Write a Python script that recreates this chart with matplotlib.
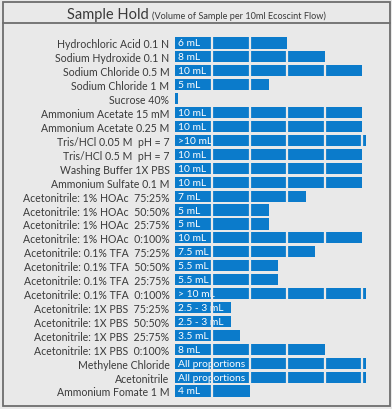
import matplotlib
matplotlib.use("Agg")
import matplotlib.pyplot as plt
from matplotlib.patches import Rectangle
from matplotlib.lines import Line2D

categories = [
    "Hydrochloric Acid 0.1 N", "Sodium Hydroxide 0.1 N", "Sodium Chloride 0.5 M",
    "Sodium Chloride 1 M", "Sucrose 40%", "Ammonium Acetate 15 mM",
    "Ammonium Acetate 0.25 M", "Tris/HCl 0.05 M  pH = 7", "Tris/HCl 0.5 M  pH = 7",
    "Washing Buffer 1X PBS", "Ammonium Sulfate 0.1 M",
    "Acetonitrile: 1% HOAc  75:25%", "Acetonitrile: 1% HOAc  50:50%",
    "Acetonitrile: 1% HOAc  25:75%", "Acetonitrile: 1% HOAc  0:100%",
    "Acetonitrile: 0.1% TFA  75:25%", "Acetonitrile: 0.1% TFA  50:50%",
    "Acetonitrile: 0.1% TFA  25:75%", "Acetonitrile: 0.1% TFA  0:100%",
    "Acetonitrile: 1X PBS  75:25%", "Acetonitrile: 1X PBS  50:50%",
    "Acetonitrile: 1X PBS  25:75%", "Acetonitrile: 1X PBS  0:100%",
    "Methylene Chloride", "Acetonitrile", "Ammonium Fomate 1 M",
]
values = [6, 8, 10, 5, 0.15, 10, 10, 10.2, 10, 10, 10, 7, 5, 5, 10, 7.5, 5.5, 5.5,
          10.2, 3, 3, 3.5, 8, 10.2, 10.2, 4]
bar_labels = ["6 mL", "8 mL", "10 mL", "5 mL", "", "10 mL", "10 mL", ">10 mL", "10 mL",
              "10 mL", "10 mL", "7 mL", "5 mL", "5 mL", "10 mL", "7.5 mL", "5.5 mL",
              "5.5 mL", "> 10 mL", "2.5 - 3 mL", "2.5 - 3 mL", "3.5 mL", "8 mL",
              "All proportions", "All proportions", "4 mL"]
segment_ticks = [2, 4, 6, 8, 10]

W, H = 392, 410
BG = "#e9e9e9"
BAR = "#0b7bcb"
TXT = "#3a3a3a"

fig = plt.figure(figsize=(W / 100, H / 100), dpi=100, facecolor=BG)

# outer frame & title separator
fig.patches.append(Rectangle((2.5 / W, 1 - 406.5 / H), 387 / W, 404 / H,
                             transform=fig.transFigure, fill=False,
                             edgecolor="#6e6e6e", linewidth=1.3))
fig.lines.append(Line2D([2.5 / W, 389.5 / W], [1 - 23.5 / H, 1 - 23.5 / H],
                        transform=fig.transFigure, color="#6e6e6e", linewidth=1.3))

fig.text(149 / W, 1 - 19 / H, "Sample Hold", ha="right", va="baseline",
         fontsize=10.5, color=TXT, family="Lato")
fig.text(152 / W, 1 - 19 / H, "(Volume of Sample per 10ml Ecoscint Flow)",
         ha="left", va="baseline", fontsize=6.6, color=TXT, family="Lato")

n = len(categories)
row = (392 - 44) / (n - 1)
top_px = 44 - row / 2
bot_px = 392 + row / 2
left_px, right_px = 175, 362
ax = fig.add_axes([left_px / W, 1 - bot_px / H, (right_px - left_px) / W,
                   (bot_px - top_px) / H])
ax.set_facecolor("none")
ypos = list(range(n))
ax.barh(ypos, values, height=0.8, color=BAR, edgecolor="none", zorder=2)
for y, v, lab in zip(ypos, values, bar_labels):
    for t in segment_ticks:
        if t < v:
            ax.plot([t, t], [y - 0.45, y + 0.45], color=BG, linewidth=1.6,
                    solid_capstyle="butt", zorder=4)
    if lab:
        ax.text(0.18, y, lab, ha="left", va="center", color="white",
                fontsize=7.4, family="Lato", zorder=3)

ax.set_xlim(0, 10)
ax.set_ylim(n - 0.5, -0.5)
ax.set_yticks(ypos)
ax.set_yticklabels(categories, fontsize=7.6, color=TXT, family="Lato")
ax.tick_params(axis="y", length=0, pad=4)
ax.set_xticks([])
for s in ax.spines.values():
    s.set_visible(False)
for b in ax.patches:
    b.set_clip_on(False)
for l in ax.lines:
    l.set_clip_on(False)

fig.savefig("out.png", dpi=100, facecolor=BG)
